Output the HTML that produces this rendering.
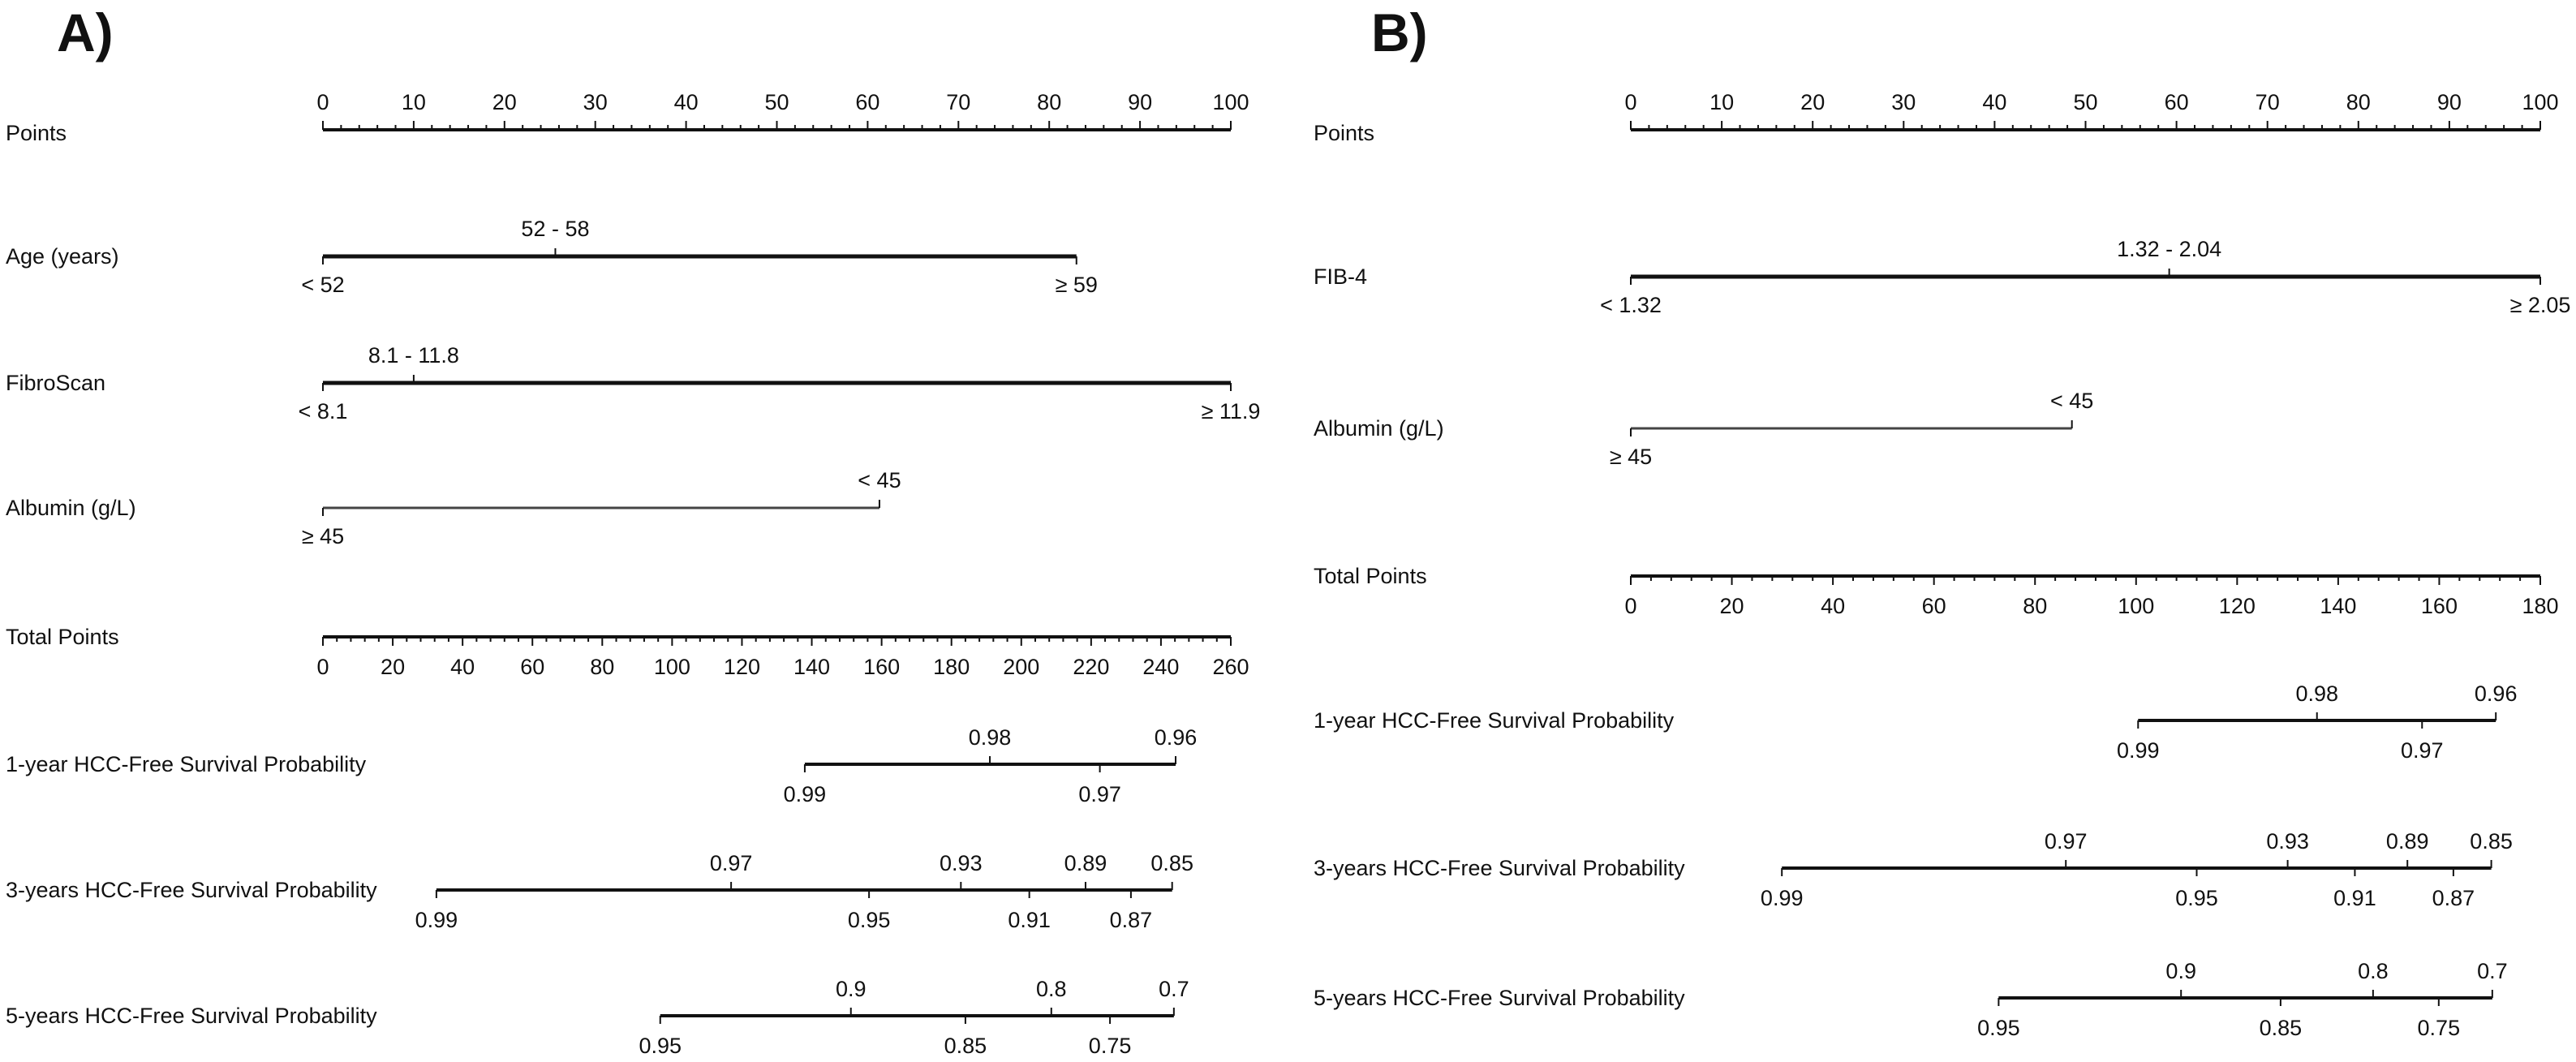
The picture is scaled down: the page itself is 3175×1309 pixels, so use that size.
<!DOCTYPE html>
<html><head><meta charset="utf-8"><style>
html,body{margin:0;padding:0;background:#fff;}
svg{display:block;font-family:"Liberation Sans",Arial,sans-serif;}
</style></head>
<body>
<svg id="chart" width="3175" height="1309" viewBox="0 0 3175 1309" xmlns="http://www.w3.org/2000/svg"></svg>
<script>
// ---------- Data ----------
// Panel A
const aPointsTicks = [0,10,20,30,40,50,60,70,80,90,100];
const aAgeLevels = ["< 52","52 - 58","\u2265 59"];
const aAgePoints = [0,25.6,83];
const aFibroLevels = ["< 8.1","8.1 - 11.8","\u2265 11.9"];
const aFibroPoints = [0,10,100];
const aAlbLevels = ["\u2265 45","< 45"];
const aAlbPoints = [0,61.3];
const aTotalTicks = [0,20,40,60,80,100,120,140,160,180,200,220,240,260];
const aY1Labels = ["0.99","0.98","0.97","0.96"];
const aY1Total = [138,191,222.5,244.2];
const aY3Labels = ["0.99","0.97","0.95","0.93","0.91","0.89","0.87","0.85"];
const aY3Total = [32.5,116.9,156.4,182.7,202.3,218.4,231.4,243.2];
const aY5Labels = ["0.95","0.9","0.85","0.8","0.75","0.7"];
const aY5Total = [96.6,151.2,184,208.6,225.4,243.7];
// Panel B
const bPointsTicks = [0,10,20,30,40,50,60,70,80,90,100];
const bFibLevels = ["< 1.32","1.32 - 2.04","\u2265 2.05"];
const bFibPoints = [0,59.2,100];
const bAlbLevels = ["\u2265 45","< 45"];
const bAlbPoints = [0,48.5];
const bTotalTicks = [0,20,40,60,80,100,120,140,160,180];
const bY1Labels = ["0.99","0.98","0.97","0.96"];
const bY1Total = [100.4,135.8,156.6,171.2];
const bY3Labels = ["0.99","0.97","0.95","0.93","0.91","0.89","0.87","0.85"];
const bY3Total = [29.9,86.1,112,130,143.3,153.7,162.8,170.3];
const bY5Labels = ["0.95","0.9","0.85","0.8","0.75","0.7"];
const bY5Total = [72.8,108.9,128.6,146.9,159.9,170.5];

// ---------- Drawing ----------
const FS = 27;
const svg = document.getElementById('chart');
const NS = 'http://www.w3.org/2000/svg';
function mk(tag, attrs, parent){
  const e = document.createElementNS(NS, tag);
  for (const k in attrs) e.setAttribute(k, attrs[k]);
  (parent||svg).appendChild(e);
  return e;
}
function line(g,x1,y1,x2,y2,w,c){
  const l = mk('line',{x1:x1,y1:y1,x2:x2,y2:y2,stroke:c||'#111','stroke-width':w},g);
  
  
  return l;
}
function text(g,x,y,s,anchor,size,name,weight){
  const t = mk('text',{x:x,y:y,'font-size':size||FS,'text-anchor':anchor||'middle','dominant-baseline':'central',fill:'#111','font-weight':weight||'normal'},g);
  t.textContent = s;
  
  
  return t;
}
function group(name){
  const g = mk('g',{});
  
  
  return g;
}

function panel(P){
  const x0 = P.x0, x1 = P.x1;
  const px = v => x0 + (x1-x0)*v/100;
  const tx = v => x0 + (x1-x0)*v/P.totalMax;
  text(svg,P.titleX,40,P.title,'start',66,'panel-title','bold');

  const gp = group('points-axis');
  text(gp,P.labelX,P.pointsY+4,'Points','start',FS,'row-label');
  line(gp,x0,P.pointsY,x1,P.pointsY,4);
  for (let v=0; v<=100; v+=2){
    const major = v%10===0;
    line(gp,px(v),P.pointsY,px(v),P.pointsY-(major?11:6),2);
  }
  P.pointsTicks.forEach(v=>text(gp,px(v),P.pointsY-34,String(v)));

  P.vars.forEach(V=>{
    const g = group(V.name);
    text(g,P.labelX,V.y,V.label,'start',FS,'row-label');
    const maxP = Math.max.apply(null,V.points);
    line(g,px(0),V.y,px(maxP),V.y,V.w,V.c);
    V.points.forEach((p,i)=>{
      const up = V.up[i];
      line(g,px(p),V.y,px(p),V.y+(up?-10:10),2);
      text(g,px(p),V.y+(up?-34:35),V.levels[i],'middle',FS,'level-label');
    });
  });

  const gt = group('total-points-axis');
  text(gt,P.labelX,P.totalY,'Total Points','start',FS,'row-label');
  line(gt,tx(0),P.totalY,tx(P.totalMax),P.totalY,4);
  for (let v=0; v<=P.totalMax; v+=4){
    const major = v%20===0;
    line(gt,tx(v),P.totalY,tx(v),P.totalY+(major?11:6),2);
  }
  P.totalTicks.forEach(v=>text(gt,tx(v),P.totalY+37,String(v)));

  P.probs.forEach(R=>{
    const g = group(R.name);
    text(g,P.labelX,R.y,R.label,'start',FS,'row-label');
    const mn = Math.min.apply(null,R.total), mx = Math.max.apply(null,R.total);
    line(g,tx(mn),R.y,tx(mx),R.y,4);
    const n = R.total.length;
    R.total.forEach((t,i)=>{
      const up = ((n-1-i)%2===0);
      line(g,tx(t),R.y,tx(t),R.y+(up?-10:10),2);
      text(g,tx(t),R.y+(up?-33:37),R.labels[i],'middle',FS,'probability-label');
    });
  });
}

panel({
  title:'A)', titleX:70, labelX:7, x0:398, x1:1517, pointsY:160, pointsTicks:aPointsTicks, totalY:785, totalMax:260, totalTicks:aTotalTicks,
  vars:[
    {name:'age-row',label:'Age (years)',y:316,levels:aAgeLevels,points:aAgePoints,up:[false,true,false],w:5,c:'#111'},
    {name:'fibroscan-row',label:'FibroScan',y:472,levels:aFibroLevels,points:aFibroPoints,up:[false,true,false],w:5,c:'#111'},
    {name:'albumin-row',label:'Albumin (g/L)',y:626,levels:aAlbLevels,points:aAlbPoints,up:[false,true],w:3,c:'#444'}
  ],
  probs:[
    {name:'one-year-survival-row',label:'1-year HCC-Free Survival Probability',y:942,labels:aY1Labels,total:aY1Total},
    {name:'three-year-survival-row',label:'3-years HCC-Free Survival Probability',y:1097,labels:aY3Labels,total:aY3Total},
    {name:'five-year-survival-row',label:'5-years HCC-Free Survival Probability',y:1252,labels:aY5Labels,total:aY5Total}
  ]
});
panel({
  title:'B)', titleX:1690, labelX:1619, x0:2010, x1:3131, pointsY:160, pointsTicks:bPointsTicks, totalY:710, totalMax:180, totalTicks:bTotalTicks,
  vars:[
    {name:'fib4-row',label:'FIB-4',y:341,levels:bFibLevels,points:bFibPoints,up:[false,true,false],w:5,c:'#111'},
    {name:'albumin-row-b',label:'Albumin (g/L)',y:528,levels:bAlbLevels,points:bAlbPoints,up:[false,true],w:3,c:'#444'}
  ],
  probs:[
    {name:'one-year-survival-row-b',label:'1-year HCC-Free Survival Probability',y:888,labels:bY1Labels,total:bY1Total},
    {name:'three-year-survival-row-b',label:'3-years HCC-Free Survival Probability',y:1070,labels:bY3Labels,total:bY3Total},
    {name:'five-year-survival-row-b',label:'5-years HCC-Free Survival Probability',y:1230,labels:bY5Labels,total:bY5Total}
  ]
});
</script>
</body></html>
